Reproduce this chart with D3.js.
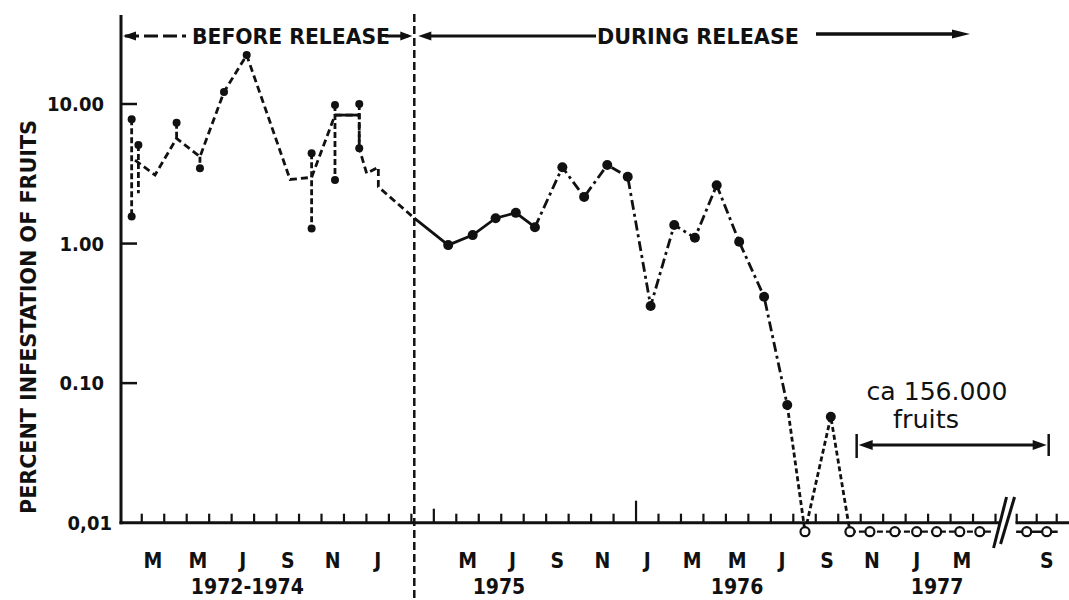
<!DOCTYPE html>
<html>
<head>
<meta charset="utf-8">
<script src="https://cdn.jsdelivr.net/npm/d3@7"></script>
<style>
  body { margin: 0; background: #fff; }
  svg { display: block; }
  text { font-family: "DejaVu Sans Condensed", "DejaVu Sans", sans-serif; fill: #111; }
</style>
</head>
<body>
<svg id="chart" width="1069" height="600"></svg>
<script>
// month index: composite year 1972-1974 runs Feb (0) .. Jan (11),
// then Feb 1975 = 12, Jan 1976 = 23, Jan 1977 = 35
const releaseMonth = 13.13;

// before release, main line
const preMonth = [0.70, 1.59, 2.55, 3.59, 4.66, 5.67, 7.60, 8.56, 9.60, 10.68, 10.68, 11.01, 11.53, 11.53, 13.13];
const preValue = [3.96, 3.10, 5.67, 4.19, 12.2, 22.4, 2.88, 2.98, 8.33, 8.33, 4.81, 3.18, 3.52, 2.55, 1.52];
// before release, vertical ranges between years
const rangeMonth = [0.55, 0.85, 2.55, 3.59, 8.56, 9.60, 10.68];
const rangeHigh = [7.76, 5.08, 7.33, 4.19, 4.43, 9.82, 9.98];
const rangeLow = [1.56, 2.29, 5.67, 3.46, 1.28, 2.85, 4.81];
// before release, sampled points
const preDotMonth = [0.55, 0.55, 0.85, 2.55, 3.59, 4.66, 5.67, 8.56, 8.56, 9.60, 9.60, 10.68, 10.68];
const preDotValue = [7.76, 1.56, 5.08, 7.33, 3.46, 12.2, 22.4, 4.43, 1.28, 9.82, 2.85, 9.98, 4.81];

// during release (0 = no infested fruit)
const durMonth = [13.13, 14.64, 15.73, 16.75, 17.65, 18.50, 19.72, 20.69, 21.72, 22.63, 23.65,
  24.70, 25.62, 26.59, 27.59, 28.70, 29.73, 30.52, 31.67, 32.52];
const durValue = [1.52, 0.975, 1.15, 1.52, 1.66, 1.31, 3.52, 2.16, 3.65, 3.01, 0.357,
  1.36, 1.10, 2.62, 1.03, 0.416, 0.0697, 0, 0.0574, 0];
const zeroMonth = [32.52, 33.41, 34.52, 35.49, 36.38, 37.41, 38.30];
const afterBreakMonth = [42.5, 43.5];

// axis labels
const yTickValues = [10, 1, 0.1, 0.01];
const yTickLabels = ["10.00", "1.00", "0.10", "0,01"];
const monthLabels = ["M", "M", "J", "S", "N", "J", "M", "J", "S", "N", "J", "M", "M", "J", "S", "N", "J", "M", "S"];
const monthLabelAt = [1.5, 3.5, 5.5, 7.5, 9.5, 11.5, 15.5, 17.5, 19.5, 21.5, 23.5, 25.5, 27.5, 29.5, 31.5, 33.5, 35.5, 37.5, 43.5];
const yearLabels = ["1972-1974", "1975", "1976", "1977"];
const yearLabelAt = [5.7, 16.9, 27.5, 36.4];

var ink = "#111";
var svg = d3.select("#chart");

// x has a break between Apr and Aug 1977
var x = d3.scaleLinear().domain([0, 39.2, 42, 46]).range([119.3, 1000, 1016.7, 1096.7]);
var y = d3.scaleLog().domain([0.01, 10]).range([522.7, 104]);
var baseY = y(0.01);
var zeroY = baseY + 9;
function yv(v) { return v === 0 ? zeroY : y(v); }

var line = d3.line().x(d => x(d[0])).y(d => yv(d[1]));

// axes
var axis = svg.append("g").attr("stroke", ink).attr("fill", "none");
axis.append("line").attr("x1", 121).attr("x2", 121).attr("y1", 15).attr("y2", baseY + 1.5).attr("stroke-width", 3);
axis.append("line").attr("x1", 119.5).attr("x2", x(39.3)).attr("y1", baseY).attr("y2", baseY).attr("stroke-width", 3);
axis.append("line").attr("x1", x(41.8)).attr("x2", 1069).attr("y1", baseY).attr("y2", baseY).attr("stroke-width", 3);

yTickValues.slice(0, 3).forEach(function (v) {
  axis.append("line").attr("x1", 121).attr("x2", 137).attr("y1", y(v)).attr("y2", y(v)).attr("stroke-width", 2.5);
});

var tickMonths = d3.range(1, 40).concat([42, 43, 44]);
var tallTicks = { 14: 14, 23: 22 };
axis.selectAll(".xt").data(tickMonths).enter().append("line")
  .attr("x1", d => x(d)).attr("x2", d => x(d))
  .attr("y1", baseY).attr("y2", d => baseY - (tallTicks[d] || 9))
  .attr("stroke-width", 2.2);

// axis break
var bx = x(40.3);
axis.append("line").attr("x1", bx - 13).attr("y1", 548).attr("x2", bx).attr("y2", 497).attr("stroke-width", 3);
axis.append("line").attr("x1", bx - 6).attr("y1", 544).attr("x2", bx + 8).attr("y2", 497).attr("stroke-width", 3);

// tick labels
svg.selectAll(".yl").data(yTickValues).enter().append("text")
  .attr("x", (d, i) => i === 3 ? 112 : 104)
  .attr("y", d => y(d) + 7)
  .attr("text-anchor", "end")
  .attr("font-size", 20).attr("font-weight", "bold")
  .text((d, i) => yTickLabels[i]);

svg.selectAll(".ml").data(monthLabels).enter().append("text")
  .attr("x", (d, i) => x(monthLabelAt[i]))
  .attr("y", 568)
  .attr("text-anchor", "middle")
  .attr("font-size", 21).attr("font-weight", "bold")
  .text(d => d);

svg.selectAll(".yr").data(yearLabels).enter().append("text")
  .attr("x", (d, i) => x(yearLabelAt[i]))
  .attr("y", 594)
  .attr("text-anchor", "middle")
  .attr("font-size", 21).attr("font-weight", "bold")
  .text(d => d);

svg.append("text")
  .attr("transform", "translate(36,317) rotate(-90)")
  .attr("text-anchor", "middle")
  .attr("font-size", 22).attr("font-weight", "bold")
  .attr("textLength", 394).attr("lengthAdjust", "spacingAndGlyphs")
  .text("PERCENT INFESTATION OF FRUITS");

// release line
var rx = x(releaseMonth);
svg.append("line").attr("x1", rx).attr("x2", rx).attr("y1", 14).attr("y2", 600)
  .attr("stroke", ink).attr("stroke-width", 2.5).attr("stroke-dasharray", "8,4");

// period arrows
function arrowHead(tipX, yy, dir, len, half) {
  svg.append("path")
    .attr("d", "M" + tipX + "," + yy + "L" + (tipX - dir * len) + "," + (yy - half) +
      "L" + (tipX - dir * len) + "," + (yy + half) + "Z")
    .attr("fill", ink);
}
var topY = 36;
svg.append("line").attr("x1", 125).attr("x2", 186).attr("y1", topY).attr("y2", topY)
  .attr("stroke", ink).attr("stroke-width", 3).attr("stroke-dasharray", "14,5");
arrowHead(123, topY, -1, 13, 4.5);
svg.append("line").attr("x1", 385).attr("x2", rx - 6).attr("y1", topY).attr("y2", topY)
  .attr("stroke", ink).attr("stroke-width", 3);
arrowHead(rx - 2, topY, 1, 12, 4.5);
svg.append("text").attr("x", 291).attr("y", topY + 8)
  .attr("text-anchor", "middle").attr("font-size", 21).attr("font-weight", "bold")
  .attr("textLength", 198).attr("lengthAdjust", "spacingAndGlyphs")
  .text("BEFORE RELEASE");

svg.append("line").attr("x1", rx + 10).attr("x2", 596).attr("y1", topY).attr("y2", topY)
  .attr("stroke", ink).attr("stroke-width", 3);
arrowHead(rx + 4, topY, -1, 13, 4.5);
svg.append("text").attr("x", 698).attr("y", topY + 8)
  .attr("text-anchor", "middle").attr("font-size", 21).attr("font-weight", "bold")
  .attr("textLength", 202).attr("lengthAdjust", "spacingAndGlyphs")
  .text("DURING RELEASE");
svg.append("line").attr("x1", 816).attr("x2", 955).attr("y1", topY - 2).attr("y2", topY - 2)
  .attr("stroke", ink).attr("stroke-width", 3.5);
arrowHead(970, topY - 2, 1, 18, 4.5);

// before release
svg.append("path").datum(d3.zip(preMonth, preValue))
  .attr("d", line).attr("fill", "none").attr("stroke", ink)
  .attr("stroke-width", 2.8).attr("stroke-dasharray", "7,4");
svg.append("path").datum(d3.zip(preMonth, preValue).slice(8, 10))
  .attr("d", line).attr("fill", "none").attr("stroke", ink).attr("stroke-width", 2.8);
svg.selectAll(".rng").data(rangeMonth).enter().append("line")
  .attr("x1", d => x(d)).attr("x2", d => x(d))
  .attr("y1", (d, i) => y(rangeHigh[i])).attr("y2", (d, i) => y(rangeLow[i]))
  .attr("stroke", ink).attr("stroke-width", 2.8).attr("stroke-dasharray", "6,3");
svg.selectAll(".pd").data(preDotMonth).enter().append("circle")
  .attr("cx", d => x(d)).attr("cy", (d, i) => y(preDotValue[i]))
  .attr("r", 4).attr("fill", ink);

// during release
var dur = d3.zip(durMonth, durValue);
svg.append("path").datum(dur.slice(0, 6))
  .attr("d", line).attr("fill", "none").attr("stroke", ink).attr("stroke-width", 2.8);
svg.append("path").datum(dur.slice(5, 17))
  .attr("d", line).attr("fill", "none").attr("stroke", ink)
  .attr("stroke-width", 2.8).attr("stroke-dasharray", "10,4,3,4");
svg.append("path").datum(dur.slice(16))
  .attr("d", line).attr("fill", "none").attr("stroke", ink)
  .attr("stroke-width", 2.8).attr("stroke-dasharray", "5,3");

// zero samples after eradication
var chain = zeroMonth.map(m => [m, 0]).concat([[38.8, 0]]);
svg.append("path").datum(chain)
  .attr("d", line).attr("fill", "none").attr("stroke", ink)
  .attr("stroke-width", 2.2).attr("stroke-dasharray", "6,3");
svg.append("line").attr("x1", x(41.9)).attr("x2", x(43.5) + 11).attr("y1", zeroY).attr("y2", zeroY)
  .attr("stroke", ink).attr("stroke-width", 2.5);

svg.selectAll(".dd").data(dur.filter((d, i) => i > 0 && d[1] > 0)).enter().append("circle")
  .attr("cx", d => x(d[0])).attr("cy", d => y(d[1]))
  .attr("r", 5).attr("fill", ink);

var zeros = dur.filter(d => d[1] === 0).map(d => d[0]).concat(zeroMonth.slice(1), afterBreakMonth);
svg.selectAll(".zc").data(zeros).enter().append("circle")
  .attr("cx", d => x(d)).attr("cy", zeroY)
  .attr("r", 4.5).attr("fill", "#fff").attr("stroke", ink).attr("stroke-width", 2.2);

// sample size note
var nx0 = x(32.82), nx1 = x(43.6), ny = 445;
svg.append("line").attr("x1", nx0 + 12).attr("x2", nx1 - 12).attr("y1", ny).attr("y2", ny)
  .attr("stroke", ink).attr("stroke-width", 3);
arrowHead(nx0 + 2, ny, -1, 14, 5);
arrowHead(nx1 - 2, ny, 1, 14, 5);
svg.append("line").attr("x1", nx0).attr("x2", nx0).attr("y1", 434).attr("y2", 458).attr("stroke", ink).attr("stroke-width", 2.5);
svg.append("line").attr("x1", nx1).attr("x2", nx1).attr("y1", 434).attr("y2", 456).attr("stroke", ink).attr("stroke-width", 2.5);
svg.append("text").attr("x", 937).attr("y", 400)
  .attr("text-anchor", "middle").attr("font-size", 25)
  .attr("textLength", 141).attr("lengthAdjust", "spacingAndGlyphs")
  .text("ca 156.000");
svg.append("text").attr("x", 926).attr("y", 428)
  .attr("text-anchor", "middle").attr("font-size", 25)
  .attr("textLength", 66).attr("lengthAdjust", "spacingAndGlyphs")
  .text("fruits");
</script>
</body>
</html>
